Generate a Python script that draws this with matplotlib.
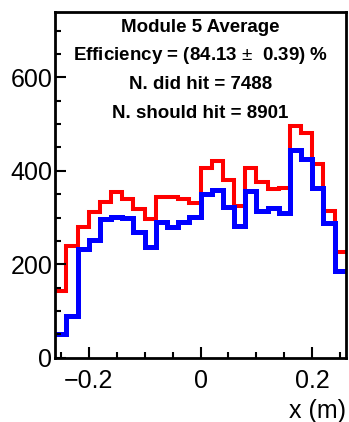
import numpy as np
import matplotlib
matplotlib.use('Agg')
import matplotlib.pyplot as plt
from matplotlib.ticker import MultipleLocator

# Bin edges in x (m): 26 bins of 0.02 from -0.26 to 0.26
bin_edges = np.round(np.arange(-0.26, 0.2601, 0.02), 2)

# Counts per bin
did_hit = [51, 90, 233, 251, 297, 302, 300, 269, 237, 290, 280, 290, 301,
           351, 360, 322, 281, 357, 315, 321, 310, 445, 426, 364, 288, 185]
should_hit = [144, 240, 280, 312, 333, 355, 339, 318, 298, 345, 345, 339, 332,
              405, 420, 380, 324, 405, 376, 362, 364, 495, 481, 415, 315, 226]

info_lines = ["Module 5 Average",
              "Efficiency = (84.13 $\\pm$  0.39) %",
              "N. did hit = 7488",
              "N. should hit = 8901"]

plt.rcParams['font.family'] = ['Liberation Sans', 'DejaVu Sans']
plt.rcParams['mathtext.fontset'] = 'custom'
plt.rcParams['mathtext.rm'] = 'Liberation Sans'

fig = plt.figure(figsize=(3.49, 4.22), dpi=100)
ax = fig.add_axes([0.158, 0.152, 0.833, 0.820])

# red = should hit, blue = did hit (drawn on top)
ax.stairs(should_hit, bin_edges, baseline=None, color='#ff0000', linewidth=2.9)
ax.stairs(did_hit, bin_edges, baseline=None, color='#0000ff', linewidth=3.6)

ax.set_xlim(-0.26, 0.26)
ax.set_ylim(0, 740)

# ticks like ROOT: inside, only bottom and left
ax.xaxis.set_major_locator(MultipleLocator(0.2))
ax.xaxis.set_minor_locator(MultipleLocator(0.05))
ax.yaxis.set_major_locator(MultipleLocator(200))
ax.yaxis.set_minor_locator(MultipleLocator(50))
ax.xaxis.set_major_formatter(plt.FuncFormatter(
    lambda v, p: '0' if abs(v) < 1e-9 else f'{v:.1f}'.replace('-', '\u2212')))
ax.yaxis.set_major_formatter(plt.FuncFormatter(lambda v, p: f'{v:.0f}'))

ax.tick_params(which='both', direction='in', top=False, right=False,
               labelsize=18, width=1.5)
ax.tick_params(axis='x', which='major', length=8, pad=8)
ax.tick_params(axis='y', which='major', length=8, pad=2)
ax.tick_params(which='minor', length=4)
for s in ax.spines.values():
    s.set_linewidth(2)

ax.set_xlabel('x (m)', fontsize=18, loc='right', labelpad=4)

# Text box with efficiency numbers
for i, line in enumerate(info_lines):
    ax.text(0.5, 0.942 - i * 0.0825, line, transform=ax.transAxes,
            ha='center', va='baseline', fontsize=13.5, fontweight='bold')

fig.savefig('out.png', dpi=100)
